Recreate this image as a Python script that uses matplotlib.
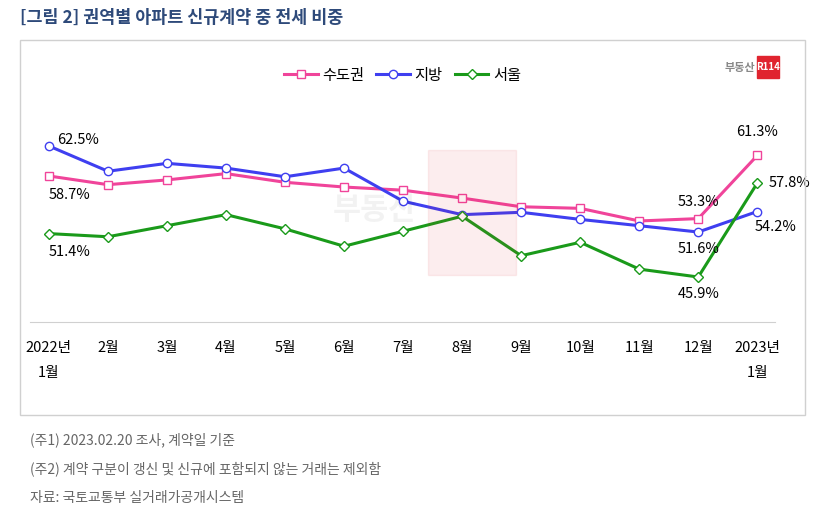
import matplotlib
matplotlib.use("Agg")
import matplotlib.pyplot as plt
from matplotlib import font_manager as fm
from matplotlib.patches import Rectangle

names = sorted({f.name for f in fm.fontManager.ttflist})
cjk = [n for n in names if 'CJK' in n and 'KR' in n] + [n for n in names if 'CJK' in n]
plt.rcParams['font.family'] = (cjk[:1] if cjk else []) + ['DejaVu Sans']

months = ["2022년\n1월", "2월", "3월", "4월", "5월", "6월", "7월", "8월", "9월", "10월", "11월", "12월", "2023년\n1월"]
capital = [58.7, 57.6, 58.2, 59.0, 57.9, 57.3, 56.9, 55.9, 54.8, 54.6, 53.0, 53.3, 61.3]
regional = [62.5, 59.3, 60.3, 59.7, 58.6, 59.7, 55.5, 53.8, 54.1, 53.2, 52.4, 51.6, 54.2]
seoul = [51.4, 51.0, 52.4, 53.8, 52.0, 49.8, 51.7, 53.6, 48.6, 50.3, 46.9, 45.9, 57.8]

W, H = 830, 532
fig = plt.figure(figsize=(W/100, H/100), dpi=100)

def fx(x): return x / W
def fy(y): return 1 - y / H

fig.text(fx(20), fy(18), "[그림 2] 권역별 아파트 신규계약 중 전세 비중", fontsize=12.5,
         fontweight='bold', color='#2e4a7a', va='center')
fig.patches.append(Rectangle((fx(20), fy(415)), fx(785), fy(40) - fy(415), transform=fig.transFigure,
                             fill=False, edgecolor='#d0d0d0', lw=1))
fig.text(fx(755), fy(67), "부동산", fontsize=8, color='#888888', ha='right', va='center', fontweight='bold')
fig.patches.append(Rectangle((fx(757), fy(78)), fx(22), fy(56) - fy(78), transform=fig.transFigure,
                             color='#e0242f'))
fig.text(fx(768), fy(67), "R114", fontsize=7, color='white', ha='center', va='center', fontweight='bold')
fig.patches.append(Rectangle((fx(428), fy(275)), fx(88), fy(150) - fy(275), transform=fig.transFigure,
                             color='#e0242f', alpha=0.08, zorder=0))
fig.text(fx(375), fy(210), "부동산", fontsize=22, color='#000000', alpha=0.05, ha='center', va='center',
         fontweight='bold')

ax = fig.add_axes([fx(30), fy(322), fx(745), fy(110) - fy(322)])
x = list(range(len(months)))
ax.plot(x, capital, color='#f0449a', lw=2.2, marker='s', ms=6, mfc='white', mec='#f0449a', label='수도권')
ax.plot(x, regional, color='#3f3ff0', lw=2.2, marker='o', ms=6, mfc='white', mec='#3f3ff0', label='지방')
ax.plot(x, seoul, color='#1a9a1a', lw=2.2, marker='D', ms=5, mfc='white', mec='#1a9a1a', label='서울')
ax.set_xlim(-0.32, 12.3)
ax.set_ylim(40.2, 67.06)
for s in ['top', 'right', 'left']:
    ax.spines[s].set_visible(False)
ax.spines['bottom'].set_color('#d0d0d0')
ax.set_yticks([])
ax.set_xticks(x)
ax.set_xticklabels(months, fontsize=10.5, linespacing=2.0)
ax.tick_params(axis='x', length=0, pad=14)
ax.patch.set_alpha(0)

def ann(i, v, dx, dy, ha):
    ax.annotate(f"{v}%", (i, v), xytext=(dx, dy), textcoords='offset points', fontsize=10.5, ha=ha, va='center')
ann(0, regional[0], 6, 4, 'left')
ann(0, capital[0], 0, -14, 'left')
ann(0, seoul[0], 0, -13, 'left')
ann(12, capital[12], 0, 17, 'center')
ann(12, seoul[12], 8, 0, 'left')
ann(12, regional[12], -2, -11, 'left')
ann(11, capital[11], 0, 12, 'center')
ann(11, regional[11], 0, -12, 'center')
ann(11, seoul[11], 0, -12, 'center')

ax.legend(loc='upper center', bbox_to_anchor=(0.5, 1.27), ncol=3, frameon=False, fontsize=11,
          handlelength=2.2, columnspacing=0.8, handletextpad=0.3)

notes = ["(주1) 2023.02.20 조사, 계약일 기준",
         "(주2) 계약 구분이 갱신 및 신규에 포함되지 않는 거래는 제외함",
         "자료: 국토교통부 실거래가공개시스템"]
for i, t in enumerate(notes):
    fig.text(fx(30), fy(440 + 29 * i), t, fontsize=10, color='#666666', va='center')

fig.savefig("out.png", dpi=100)
